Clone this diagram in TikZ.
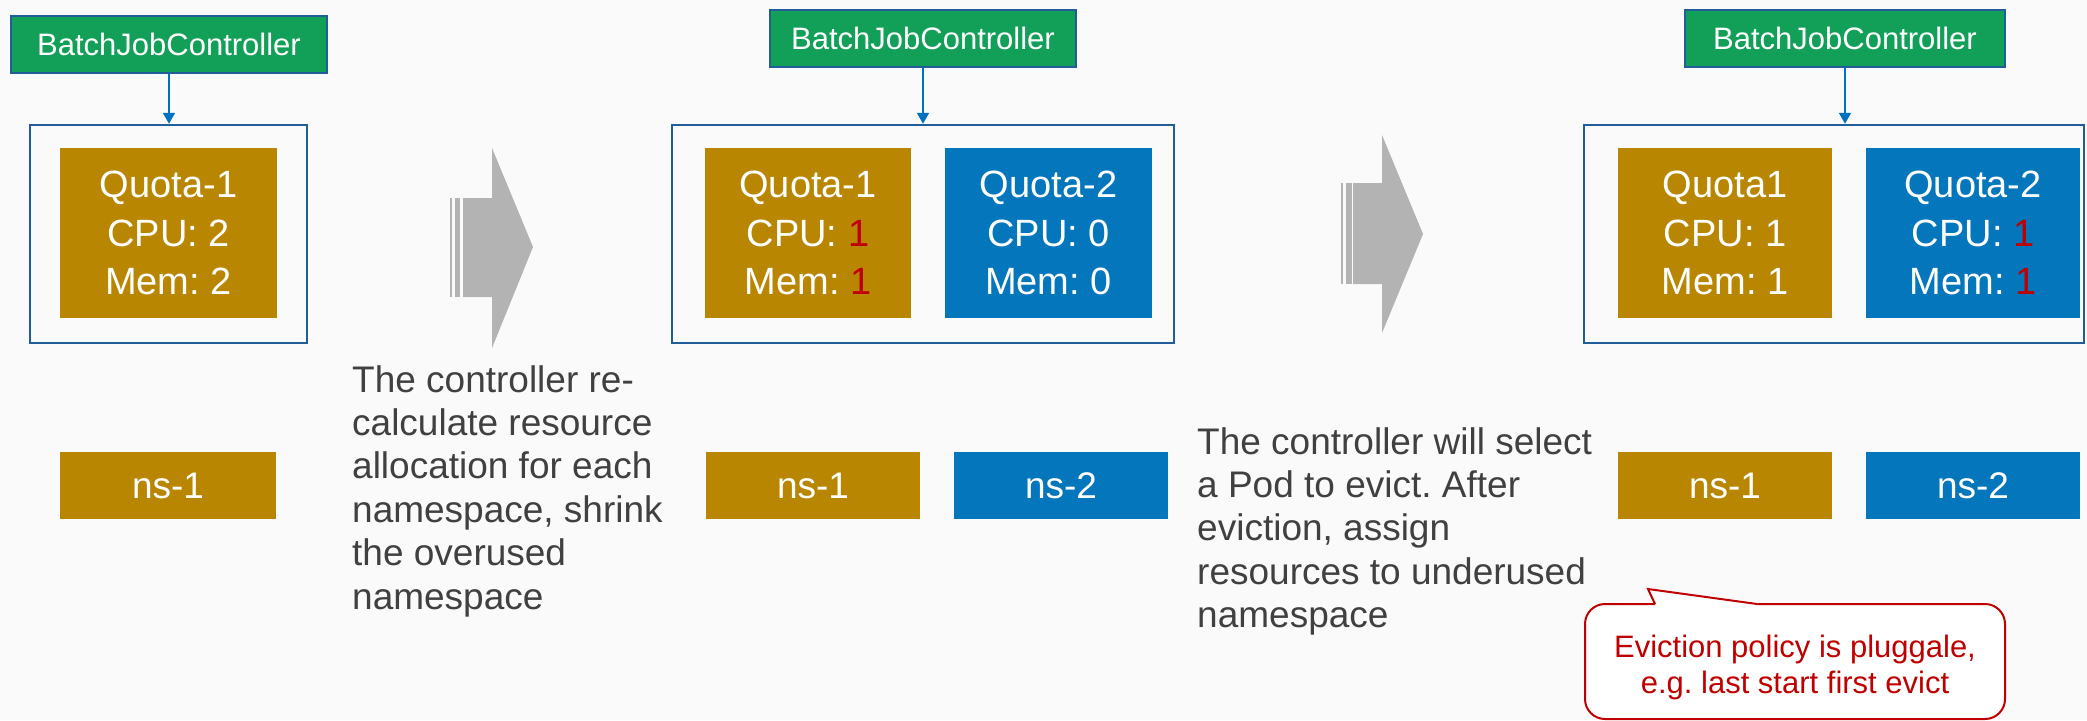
\documentclass[tikz,border=0pt]{standalone}
\usepackage{fontspec}
\setmainfont{Liberation Sans}
\usetikzlibrary{arrows.meta}
\frenchspacing

\definecolor{bgc}{HTML}{FAFAFA}
\definecolor{ctrlgreen}{HTML}{12A058}
\definecolor{frameblue}{HTML}{215E99}
\definecolor{linkblue}{HTML}{0070C0}
\definecolor{gold}{HTML}{B88600}
\definecolor{azure}{HTML}{0376BC}
\definecolor{alert}{HTML}{C00000}
\definecolor{prose}{HTML}{404040}
\definecolor{shade}{HTML}{B3B3B3}

\tikzset{
  ctrl/.style={draw=frameblue, line width=2pt, fill=ctrlgreen, text=white,
    font=\fontsize{31}{37}\selectfont, inner sep=0pt, minimum height=57pt},
  holder/.style={draw=frameblue, line width=2.5pt, inner sep=0pt, minimum height=218pt},
  quota/.style={inner sep=0pt, text=white, align=center,
    font=\fontsize{38}{48.5}\selectfont, minimum height=170pt},
  nsbox/.style={inner sep=0pt, text=white, font=\fontsize{37}{44}\selectfont,
    minimum height=67pt},
  feed/.style={draw=linkblue, line width=2pt, -{Triangle[width=12pt,length=11pt]}},
  prosetext/.style={anchor=north west, inner sep=0pt, align=left, text=prose,
    font=\fontsize{37}{43.4}\selectfont},
  blockarrow/.style={fill=shade},
}

\begin{document}
\begin{tikzpicture}[x=1pt, y=-1pt]
  \useasboundingbox (0,0) rectangle (2087,720);
  \fill[bgc] (0,0) rectangle (2087,720);

  % ---------- stage 1 ----------
  \node[ctrl, minimum width=316pt] (bjc1) at (169,44) {BatchJobController};
  \node[holder, minimum width=277pt] (out1) at (168.5,234) {};
  \node[quota, fill=gold, minimum width=217pt] (q11) at (168.5,233)
    {Quota-1\\CPU: 2\\Mem: 2};
  \node[nsbox, fill=gold, minimum width=216pt] (ns11) at (168,485.5) {ns-1};
  \draw[feed] (bjc1.south) -- (bjc1.south |- out1.north);

  % ---------- first transition ----------
  \fill[blockarrow] (450,198) rectangle (452,297);
  \fill[blockarrow] (455,198) rectangle (460,297);
  \fill[blockarrow] (463,198) -- (492,198) -- (492,148) -- (533,247)
    -- (492,348) -- (492,297) -- (463,297) -- cycle;
  \node[prosetext] (txt1) at (352,365)
    {The controller re-\\calculate resource\\allocation for each\\namespace, shrink\\the overused\\namespace};

  % ---------- stage 2 ----------
  \node[ctrl, minimum width=306pt] (bjc2) at (923,38) {BatchJobController};
  \node[holder, minimum width=502pt] (out2) at (923,234) {};
  \node[quota, fill=gold, minimum width=206pt] (q21) at (808,233)
    {Quota-1\\CPU: \textcolor{alert}{1}\\Mem: \textcolor{alert}{1}};
  \node[quota, fill=azure, minimum width=207pt] (q22) at (1048.5,233)
    {Quota-2\\CPU: 0\\Mem: 0};
  \node[nsbox, fill=gold, minimum width=214pt] (ns21) at (813,485.5) {ns-1};
  \node[nsbox, fill=azure, minimum width=214pt] (ns22) at (1061,485.5) {ns-2};
  \draw[feed] (bjc2.south) -- (bjc2.south |- out2.north);

  % ---------- second transition ----------
  \fill[blockarrow] (1341,183) rectangle (1343,284);
  \fill[blockarrow] (1346,183) rectangle (1352,284);
  \fill[blockarrow] (1353,183) -- (1382,183) -- (1382,135) -- (1423,234)
    -- (1382,333) -- (1382,284) -- (1353,284) -- cycle;
  \node[prosetext] (txt2) at (1197,427)
    {The controller will select\\a Pod to evict. After\\eviction, assign\\resources to underused\\namespace};

  % ---------- stage 3 ----------
  \node[ctrl, minimum width=320pt] (bjc3) at (1845,38) {BatchJobController};
  \node[holder, minimum width=500pt] (out3) at (1834,234) {};
  \node[quota, fill=gold, minimum width=214pt] (q31) at (1725,233)
    {Quota1\\CPU: 1\\Mem: 1};
  \node[quota, fill=azure, minimum width=214pt] (q32) at (1973,233)
    {Quota-2\\CPU: \textcolor{alert}{1}\\Mem: \textcolor{alert}{1}};
  \node[nsbox, fill=gold, minimum width=214pt] (ns31) at (1725,485.5) {ns-1};
  \node[nsbox, fill=azure, minimum width=214pt] (ns32) at (1973,485.5) {ns-2};
  \draw[feed] (bjc3.south) -- (bjc3.south |- out3.north);

  % ---------- eviction note ----------
  \node[draw=alert, line width=2pt, fill=white, rounded corners=20pt,
        minimum width=420pt, minimum height=115pt, inner sep=0pt] (callout) at (1795,661.5) {};
  \fill[white] (1656,606) -- (1649,591) -- (1757,602.5) -- (1757,606) -- cycle;
  \draw[alert, line width=2pt, line join=miter] (1655,604) -- (1648,589) -- (1757,604);
  \node[inner sep=0pt, align=center, text=alert, font=\fontsize{31}{36}\selectfont]
    (calltext) at (1795,667) {Eviction policy is pluggale,\\e.g. last start first evict};
\end{tikzpicture}
\end{document}
